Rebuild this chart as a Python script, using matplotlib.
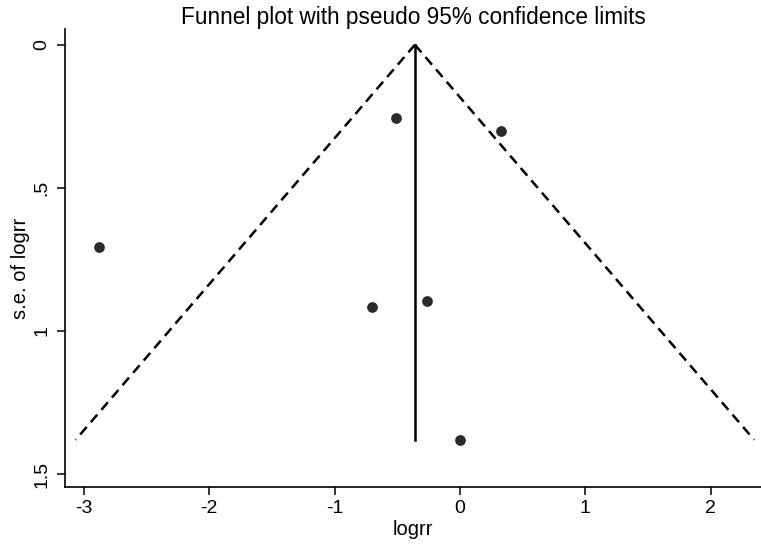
import numpy as np
import matplotlib.pyplot as plt

plt.rcParams['font.family'] = ['Liberation Sans', 'DejaVu Sans']
plt.rcParams['axes.unicode_minus'] = False

# studies: log relative risk and its standard error
logrr = [-2.88, -0.51, 0.33, -0.70, -0.26, 0.0]
se_logrr = [0.705, 0.255, 0.30, 0.915, 0.895, 1.38]

# pooled estimate (fixed effect) and max s.e.
pooled = -0.36
se_max = 1.38

xticks = [-3, -2, -1, 0, 1, 2]
yticks = [0, 0.5, 1, 1.5]
ytick_labels = ['0', '.5', '1', '1.5']

fig = plt.figure(figsize=(7.61, 5.47), dpi=100)
ax = fig.add_axes([0.0854, 0.1097, 0.9146, 0.8373])

# pseudo 95% confidence limits
se_line = np.array([0, se_max])
ax.plot(pooled - 1.96 * se_line, se_line, color='black', linestyle=(0, (4, 2.5)), linewidth=1.8)
ax.plot(pooled + 1.96 * se_line, se_line, color='black', linestyle=(0, (4, 2.5)), linewidth=1.8)
ax.plot([pooled, pooled], [0, se_max], color='black', linewidth=1.8)

ax.scatter(logrr, se_logrr, s=45, color='#2b2b2b', zorder=3)

ax.set_xlim(-3.15, 2.40)
ax.set_ylim(1.545, -0.055)
ax.set_xticks(xticks)
ax.set_xticklabels([str(t) for t in xticks])
ax.set_yticks(yticks)
ax.set_yticklabels(ytick_labels, rotation=90, va='center')

ax.spines['top'].set_visible(False)
ax.spines['right'].set_visible(False)
ax.spines['left'].set_linewidth(1.2)
ax.spines['bottom'].set_linewidth(1.2)
ax.tick_params(direction='out', length=5.5, width=1.1, labelsize=14)
ax.tick_params(axis='x', pad=4)
ax.tick_params(axis='y', pad=5)

ax.set_xlabel('logrr', fontsize=14.5, labelpad=2)
ax.set_ylabel('s.e. of logrr', fontsize=14.5)
ax.yaxis.set_label_coords(-0.05, 0.478)
ax.set_title('Funnel plot with pseudo 95% confidence limits', fontsize=16.3, pad=3)

fig.savefig('out.png', dpi=100)
